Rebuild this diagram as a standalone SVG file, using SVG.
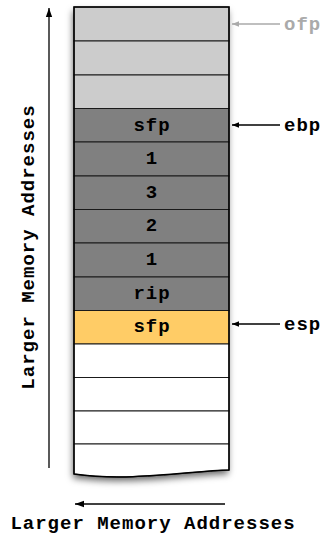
<svg xmlns="http://www.w3.org/2000/svg" width="327" height="535" viewBox="0 0 327 535">
<style>
text{font-family:"Liberation Mono","Courier New",monospace;font-weight:bold;font-size:19px;letter-spacing:1px;fill:#000}
.c{text-anchor:middle}
.row{stroke:#1a1a1a;stroke-width:1}
.lg{fill:#cccccc}.dg{fill:#808080}.ye{fill:#ffcc66}.wh{fill:#ffffff}
.conn{stroke:#000;stroke-width:1.3;fill:none}
</style>
<defs>
<filter id="sh" x="-20%" y="-10%" width="140%" height="120%">
<feDropShadow dx="-1" dy="4" stdDeviation="3.5" flood-color="#000" flood-opacity="0.6"/>
</filter>
<marker id="ah" viewBox="0 0 10 10" refX="10" refY="5" markerWidth="7" markerHeight="7" orient="auto" markerUnits="userSpaceOnUse"><path d="M0,1 L10,5 L0,9 Z" fill="#000"/></marker>
<marker id="ahg" viewBox="0 0 10 10" refX="10" refY="5" markerWidth="7" markerHeight="7" orient="auto" markerUnits="userSpaceOnUse"><path d="M0,1 L10,5 L0,9 Z" fill="#aaaaaa"/></marker>
<marker id="ahb" viewBox="0 0 10 10" refX="10" refY="5" markerWidth="9" markerHeight="9" orient="auto" markerUnits="userSpaceOnUse"><path d="M0,1.5 L10,5 L0,8.5 Z" fill="#000"/></marker>
</defs>
<g id="stack">
<path d="M74,7 H229 V470 C190,471 130,482 74,474 Z" fill="#fff" filter="url(#sh)"/>
<g id="r1"><rect class="row lg" x="74" y="7" width="155" height="34"/></g>
<g id="r2"><rect class="row lg" x="74" y="41" width="155" height="34"/></g>
<g id="r3"><rect class="row lg" x="74" y="75" width="155" height="33.5"/></g>
<g id="r4"><rect class="row dg" x="74" y="108.5" width="155" height="33.5"/><text class="c" x="152" y="131">sfp</text></g>
<g id="r5"><rect class="row dg" x="74" y="142" width="155" height="34"/><text class="c" x="152" y="164">1</text></g>
<g id="r6"><rect class="row dg" x="74" y="176" width="155" height="33.5"/><text class="c" x="152" y="198">3</text></g>
<g id="r7"><rect class="row dg" x="74" y="209.5" width="155" height="33.5"/><text class="c" x="152" y="231">2</text></g>
<g id="r8"><rect class="row dg" x="74" y="243" width="155" height="34"/><text class="c" x="152" y="265">1</text></g>
<g id="r9"><rect class="row dg" x="74" y="277" width="155" height="33.5"/><text class="c" x="152" y="299">rip</text></g>
<g id="r10"><rect class="row ye" x="74" y="310.5" width="155" height="33.5"/><text class="c" x="152" y="332">sfp</text></g>
<g id="r11"><rect class="row wh" x="74" y="344" width="155" height="33.5"/></g>
<g id="r12"><rect class="row wh" x="74" y="377.5" width="155" height="33.5"/></g>
<g id="r13"><rect class="row wh" x="74" y="411" width="155" height="33"/></g>
<g id="r14"><path class="row" d="M74,444 H229 V470 C190,471 130,482 74,474 Z" fill="#fff"/></g>
<path d="M74,7 H229 V470 C190,471 130,482 74,474 Z" fill="none" stroke="#000" stroke-width="1.5"/>
</g>
<g id="labels">
<g id="ofp"><text x="284" y="30" style="fill:#aaaaaa">ofp</text></g>
<g id="ebp"><text x="284" y="131">ebp</text></g>
<g id="esp"><text x="284" y="330">esp</text></g>
<g id="vlabel"><text class="c" transform="translate(34,247) rotate(-90)">Larger Memory Addresses</text></g>
<g id="hlabel"><text class="c" x="153" y="529">Larger Memory Addresses</text></g>
</g>
<g id="connectors">
<line x1="280" y1="24" x2="232" y2="24" stroke="#aaaaaa" stroke-width="1.3" marker-end="url(#ahg)"/>
<line class="conn" x1="280" y1="125" x2="232" y2="125" marker-end="url(#ah)"/>
<line class="conn" x1="280" y1="324" x2="232" y2="324" marker-end="url(#ah)"/>
<line class="conn" x1="49" y1="468" x2="49" y2="8" stroke-width="1.6" marker-end="url(#ahb)"/>
<line class="conn" x1="225" y1="504" x2="75" y2="504" stroke-width="1.6" marker-end="url(#ahb)"/>
</g>
</svg>
